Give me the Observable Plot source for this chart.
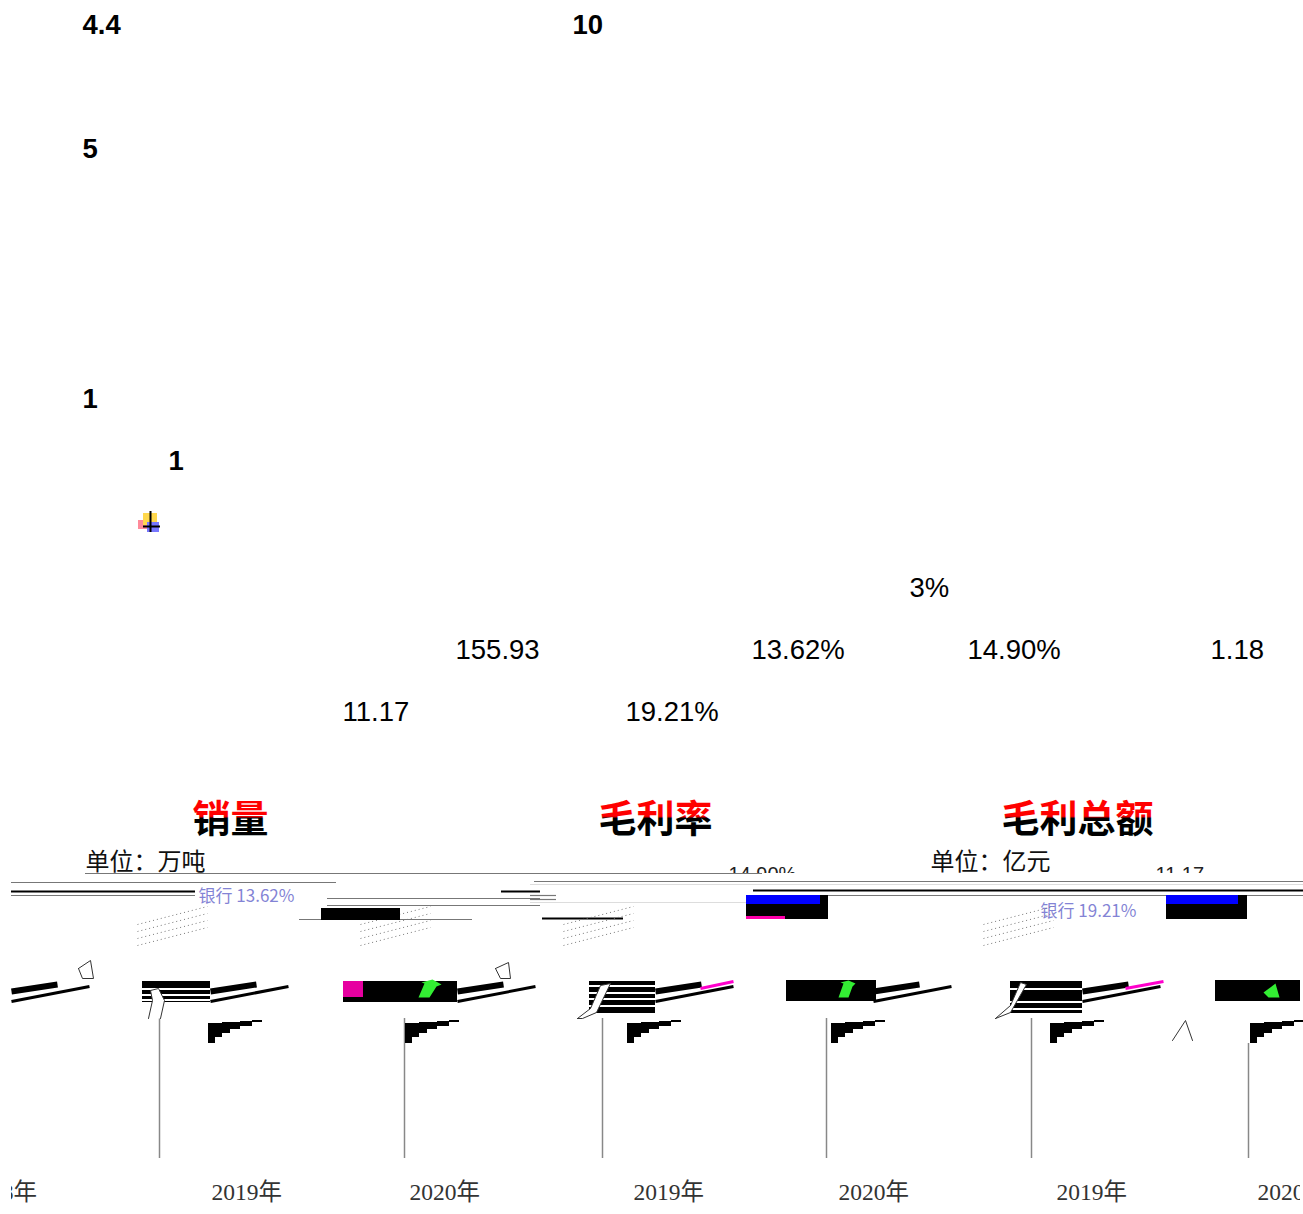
<!DOCTYPE html>
<html><head><meta charset="utf-8">
<style>html,body{margin:0;padding:0;background:#fff;overflow:hidden}svg{display:block}</style>
<script src="https://cdn.jsdelivr.net/npm/d3@7"></script>
<script src="https://cdn.jsdelivr.net/npm/@observablehq/plot@0.6"></script>
</head><body>
<script>
const panelTitles = ["销量", "毛利率", "毛利总额"];
const panelUnits = ["单位：万吨", "单位：亿元"];
const years = ["2018年", "2019年", "2020年", "2019年", "2020年", "2019年", "2020"];
const boldLabels = ["4.4", "10", "5", "1", "1"];
const valueLabels = ["3%", "155.93", "13.62%", "14.90%", "1.18", "11.17", "19.21%"];
const clippedLabels = ["14.90%", "11.17"];
const garbledLabels = ["银行 13.62%", "银行 19.21%"];

const sans = "Liberation Sans, Arial, sans-serif";
const serif = "Liberation Serif, Noto Sans CJK SC, serif";

const boldPlaced = [[82,25],[572,25],[82,149],[82,399],[168,461]].map(([x,y],i)=>({x,y,t:boldLabels[i]}));
const valuePlaced = [[909,588],[455,650],[751,650],[967,650],[1210,650],[342,712],[625,712]].map(([x,y],i)=>({x,y,t:valueLabels[i]}));
const titlePlaced = [230,655,1077].map((x,i)=>({x,y:819,t:panelTitles[i]}));
const unitPlaced = [85,930].map((x,i)=>({x,y:862,t:panelUnits[i]}));
const yearPlaced = [-34,211,409,633,838,1056,1257].map((x,i)=>({x,y:1192,t:years[i]}));
const clippedPlaced = [[728,874],[1155,874]].map(([x,y],i)=>({x,y,t:clippedLabels[i]}));
const garbledPlaced = [[198,896],[1040,911]].map(([x,y],i)=>({x,y,t:garbledLabels[i]}));

const hGrey = [[85,762,873],[11,336,882],[534,1303,881],[11,195,895],[327,540,898],[753,1303,895],[530,556,895],[530,556,899],[327,540,905],[299,472,919]];
const hBlack = [[11,195,891],[501,540,891],[753,1303,890],[542,623,918]];
const hLight = [[530,1303,884],[530,760,902]];
const vGrey = [[159,1018],[404,1018],[602,1018],[826,1018],[1031,1018],[1248,1043]];

const blocks = [
  [321,400,908,920,"#000"],
  [746,828,895,919,"#000"],[746,820,895,904,"#00f"],[746,785,916,919,"#f0a"],
  [1166,1247,895,919,"#000"],[1166,1238,895,904,"#00f"],
  [142,210,981,1002,"#000"],[142,210,988,990,"#fff"],[142,210,994,996,"#fff"],[142,210,999,1001,"#fff"],
  [343,457,981,1002,"#000"],[343,363,981,997,"#e600a0"],
  [589,655,981,1013,"#000"],[589,655,985,987,"#fff"],[589,655,992,994,"#fff"],[589,655,998,1000,"#fff"],[589,655,1005,1007,"#fff"],
  [786,876,980,1001,"#000"],
  [1010,1082,981,1013,"#000"],[1010,1082,988,990,"#fff"],[1010,1082,1001,1003,"#fff"],[1010,1082,1008,1010,"#fff"],
  [1215,1300,980,1001,"#000"],
  [138,148,520,529,"#ff8a9a"],[143,157,513,525,"#ffd84d"],[147,159,522,532,"#7777ff"]
].map(([x1,x2,y1,y2,c])=>({x1,x2,y1,y2,c}));

const stripeStarts = [11,210,457,655,873,1082];
const stripes = stripeStarts.flatMap((x,i)=>[
  {x1:x,y1:991,x2:x+46,y2:984,w:6,c:"#000"},
  {x1:x,y1:1001,x2:x+78,y2:986,w:3,c:"#000"}
]);
const stripeTails = [[700,988,733,981],[1125,988,1163,981]].map(([x1,y1,x2,y2])=>({x1,y1,x2,y2,w:3,c:"#f0c"}));

const wedgeStarts = [208,405,627,831,1050,1250];
const wedges = wedgeStarts.flatMap((x,i)=>[
  {i,x:x,y1:1023,y2:1043},{i,x:x+7,y1:1023,y2:1037},{i,x:x+14,y1:1022,y2:1033},{i,x:x+22,y1:1022,y2:1029},{i,x:x+32,y1:1021,y2:1026},{i,x:x+44,y1:1020,y2:1022},{i,x:x+54,y1:1019,y2:1020}
]);

const hatchStarts = [137,360,563,983];
const hatch = hatchStarts.flatMap((x,k)=>[0,7,14,21].map(o=>({x1:x,y1:945-o,x2:x+70,y2:927-o})));

const outlines = [
  [[78,968],[90,960],[93,978],[82,978],[78,968]],
  [[495,968],[508,962],[510,978],[500,978],[495,968]],
  [[148,1018],[152,1000],[150,990],[158,988],[164,1000],[160,1018]],
  [[577,1018],[590,1008],[600,985],[610,983],[596,1012],[582,1018],[577,1018]],
  [[995,1018],[1010,1005],[1020,982],[1026,984],[1010,1012],[995,1018]],
  [[1172,1040],[1185,1020],[1192,1040]]
].flatMap((p,i)=>p.map(([x,y])=>({i,x,y})));

const arrows = [
  [[418,997],[424,983],[421,982],[432,979],[441,984],[436,986],[429,997],[418,997]],
  [[838,997],[843,983],[840,982],[848,980],[855,983],[852,986],[848,997],[838,997]],
  [[1263,992],[1275,983],[1279,997],[1268,997],[1263,992]]
].flatMap((p,i)=>p.map(([x,y])=>({i,x,y})));

const crossV = [{x:150,y1:511,y2:532}];
const crossH = [{x1:143,x2:160,y:526}];

const defsMark = () => {
  const g = d3.create("svg:g");
  const lg = g.append("defs").append("linearGradient").attr("id","split").attr("x1",0).attr("x2",0).attr("y1",0).attr("y2",1);
  [[0,"#f00"],[.52,"#f00"],[.56,"#000"],[.9,"#000"],[.92,"#f00"],[1,"#f00"]].forEach(([o,c])=>lg.append("stop").attr("offset",o).attr("stop-color",c));
  return g.node();
};

const txt = (d,o)=>Plot.text(d,{x:"x",y:"y",text:"t",textAnchor:"start",lineAnchor:"middle",...o});

const chart = Plot.plot({
  width:1303,height:1214,margin:0,
  x:{domain:[0,1303],range:[0,1303],axis:null},
  y:{domain:[0,1214],range:[0,1214],axis:null},
  marks:[
    defsMark,
    txt(clippedPlaced,{fontFamily:sans,fontSize:20,fill:"#222"}),
    Plot.rect([{}],{x1:()=>700,x2:()=>1303,y1:()=>873,y2:()=>895,fill:"#fff"}),
    txt(boldPlaced,{fontFamily:sans,fontSize:27.5,fontWeight:"bold",fill:"#000"}),
    txt(valuePlaced,{fontFamily:sans,fontSize:27.5,fill:"#000"}),
    Plot.text(titlePlaced,{x:"x",y:"y",text:"t",fontFamily:"Noto Sans CJK SC",fontWeight:"bold",fontSize:38,fill:"url(#split)"}),
    txt(unitPlaced,{fontFamily:serif,fontSize:24,fill:"#111"}),
    Plot.ruleY(hGrey,{x1:d=>d[0],x2:d=>d[1],y:d=>d[2],stroke:"#777",strokeWidth:1.2}),
    Plot.ruleY(hBlack,{x1:d=>d[0],x2:d=>d[1],y:d=>d[2],stroke:"#000",strokeWidth:2}),
    Plot.ruleY(hLight,{x1:d=>d[0],x2:d=>d[1],y:d=>d[2],stroke:"#ddd",strokeWidth:1}),
    Plot.ruleX(vGrey,{x:d=>d[0],y1:d=>d[1],y2:()=>1158,stroke:"#888",strokeWidth:1.5}),
    txt(garbledPlaced,{fontFamily:"Noto Sans CJK SC",fontSize:17,fill:"#5a5ac8",opacity:.75}),
    Plot.link(hatch,{x1:"x1",y1:"y1",x2:"x2",y2:"y2",stroke:"#777",strokeWidth:1,strokeDasharray:"1 3"}),
    Plot.rect(blocks,{x1:"x1",x2:"x2",y1:"y1",y2:"y2",fill:"c",inset:0}),
    Plot.link([...stripes,...stripeTails],{x1:"x1",y1:"y1",x2:"x2",y2:"y2",stroke:"c",strokeWidth:"w",strokeLinecap:"butt"}),
    Plot.area(wedges,{x1:"x",y1:"y1",y2:"y2",z:"i",fill:"#000",curve:"step-after"}),
    Plot.line(arrows,{x:"x",y:"y",z:"i",fill:"#33ee33",stroke:"none"}),
    Plot.line(outlines,{x:"x",y:"y",z:"i",stroke:"#333",strokeWidth:1,fill:"#fff"}),
    Plot.ruleX(crossV,{x:"x",y1:"y1",y2:"y2",stroke:"#000",strokeWidth:2}),
    Plot.ruleY(crossH,{x1:"x1",x2:"x2",y:"y",stroke:"#000",strokeWidth:2}),
    txt(yearPlaced,{fontFamily:serif,fontSize:23.5,fill:"#333"}),
    Plot.rect([{a:0,b:11},{a:1300,b:1303}],{x1:"a",x2:"b",y1:()=>1170,y2:()=>1214,fill:"#fff"})
  ]
});
chart.style.background="#fff";
document.body.append(chart);
</script>
</body></html>
